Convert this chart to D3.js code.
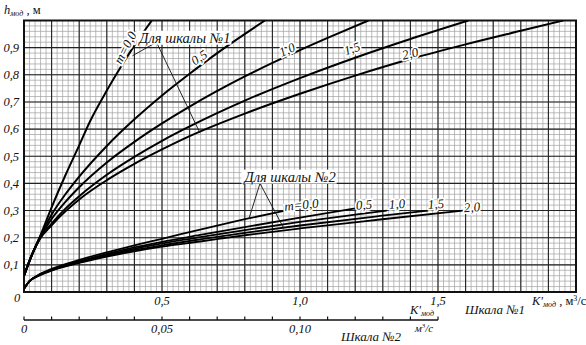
<!DOCTYPE html>
<html><head><meta charset="utf-8">
<script src="https://cdn.jsdelivr.net/npm/d3@7"></script>
<style>
body{margin:0;background:#fff;}
text{font-family:"Liberation Serif","DejaVu Serif",serif;font-style:italic;fill:#111;}
</style></head>
<body><svg id="c" width="586" height="345"></svg>
<script>
// ---- data ----
const yTicks = [0.1,0.2,0.3,0.4,0.5,0.6,0.7,0.8,0.9];
const yTickLabels = ["0,1","0,2","0,3","0,4","0,5","0,6","0,7","0,8","0,9"];
const x1Ticks = [0.5,1.0,1.5];
const x1TickLabels = ["0,5","1,0","1,5"];
const x2Ticks = [0,0.05,0.10];
const x2TickLabels = ["0","0,05","0,10"];
const mLabels = ["m=0,0","0,5","1,0","1,5","2,0"];

// upper family (scale №1): [K'мод, hмод]
const up_m00 = [[0,0.06],[0.03,0.14],[0.058,0.205],[0.1,0.312],[0.15,0.43],[0.2,0.54],[0.239,0.628],[0.3,0.742],[0.35,0.828],[0.395,0.9],[0.463,1.0]];
const up_m05 = [[0,0.06],[0.03,0.14],[0.058,0.203],[0.1,0.285],[0.15,0.36],[0.2,0.425],[0.3,0.538],[0.4,0.636],[0.5,0.724],[0.6,0.804],[0.7,0.88],[0.873,1.0]];
const up_m10 = [[0,0.06],[0.03,0.14],[0.058,0.2],[0.1,0.269],[0.15,0.332],[0.2,0.386],[0.3,0.477],[0.4,0.553],[0.5,0.621],[0.6,0.683],[0.8,0.794],[1.0,0.891],[1.1,0.936],[1.248,1.0]];
const up_m15 = [[0,0.06],[0.03,0.14],[0.058,0.198],[0.1,0.252],[0.15,0.307],[0.2,0.353],[0.3,0.432],[0.4,0.498],[0.5,0.557],[0.6,0.61],[0.8,0.705],[1.0,0.788],[1.2,0.863],[1.4,0.932],[1.61,1.0]];
const up_m20 = [[0,0.06],[0.03,0.14],[0.058,0.196],[0.1,0.246],[0.15,0.297],[0.2,0.341],[0.3,0.412],[0.4,0.472],[0.5,0.525],[0.6,0.574],[0.8,0.657],[1.0,0.73],[1.2,0.797],[1.4,0.858],[1.6,0.912],[1.8,0.962],[1.954,1.0]];

// lower family (scale №2, plotted on scale №1 positions)
const lo_m00 = [[0,0.012],[0.02,0.04],[0.05,0.062],[0.1,0.085],[0.2,0.118],[0.3,0.146],[0.4,0.172],[0.5,0.196],[0.638,0.23],[0.8,0.268],[0.946,0.30]];
const lo_m05 = [[0,0.012],[0.02,0.04],[0.05,0.06],[0.1,0.082],[0.2,0.113],[0.3,0.14],[0.4,0.164],[0.5,0.185],[0.638,0.21],[0.8,0.239],[1.0,0.274],[1.2,0.308]];
const lo_m10 = [[0,0.012],[0.02,0.04],[0.05,0.06],[0.1,0.081],[0.2,0.111],[0.3,0.137],[0.4,0.159],[0.5,0.179],[0.638,0.202],[0.8,0.228],[1.0,0.258],[1.2,0.285],[1.314,0.30]];
const lo_m15 = [[0,0.012],[0.02,0.04],[0.05,0.059],[0.1,0.08],[0.2,0.109],[0.3,0.133],[0.4,0.154],[0.5,0.172],[0.638,0.194],[0.8,0.218],[1.0,0.245],[1.29,0.28],[1.465,0.30]];
const lo_m20 = [[0,0.012],[0.02,0.04],[0.05,0.058],[0.1,0.079],[0.2,0.107],[0.3,0.13],[0.4,0.15],[0.5,0.167],[0.638,0.186],[0.8,0.209],[1.0,0.234],[1.29,0.267],[1.59,0.30]];

const upperCurves = [up_m00,up_m05,up_m10,up_m15,up_m20];
const lowerCurves = [lo_m00,lo_m05,lo_m10,lo_m15,lo_m20];

// ---- drawing ----
const svg = d3.select("#c");
const x = d3.scaleLinear().domain([0,2]).range([24,576]);
const y = d3.scaleLinear().domain([0,1]).range([292,20.5]);
const x2 = d3.scaleLinear().domain([0,0.2]).range([24,576]);

const g = svg.append("g");
// minor grid
g.append("g").selectAll("line").data(d3.range(1,100)).join("line")
  .attr("x1",d=>x(d*0.02)).attr("x2",d=>x(d*0.02)).attr("y1",y(0)).attr("y2",y(1))
  .attr("stroke","#a0a0a0").attr("stroke-width",0.7);
g.append("g").selectAll("line").data(d3.range(1,50)).join("line")
  .attr("y1",d=>y(d*0.02)).attr("y2",d=>y(d*0.02)).attr("x1",x(0)).attr("x2",x(2))
  .attr("stroke","#a0a0a0").attr("stroke-width",0.7);
// major grid
g.append("g").selectAll("line").data(d3.range(1,20)).join("line")
  .attr("x1",d=>x(d*0.1)).attr("x2",d=>x(d*0.1)).attr("y1",y(0)).attr("y2",y(1))
  .attr("stroke","#222").attr("stroke-width",1.1);
g.append("g").selectAll("line").data(d3.range(1,10)).join("line")
  .attr("y1",d=>y(d*0.1)).attr("y2",d=>y(d*0.1)).attr("x1",x(0)).attr("x2",x(2))
  .attr("stroke","#222").attr("stroke-width",1.1);
// frame
g.append("rect").attr("x",x(0)).attr("y",y(1)).attr("width",x(2)-x(0)).attr("height",y(0)-y(1))
  .attr("fill","none").attr("stroke","#111").attr("stroke-width",2);

// curves
const line = d3.line().x(d=>x(d[0])).y(d=>y(d[1])).curve(d3.curveMonotoneX);
svg.append("defs").append("clipPath").attr("id","clip").append("rect")
  .attr("x",x(0)).attr("y",y(1)).attr("width",x(2)-x(0)).attr("height",y(0)-y(1));
const cg = svg.append("g").attr("clip-path","url(#clip)");
cg.selectAll("path.up").data(upperCurves).join("path").attr("class","up")
  .attr("d",line).attr("fill","none").attr("stroke","#000").attr("stroke-width",2);
cg.selectAll("path.lo").data(lowerCurves).join("path").attr("class","lo")
  .attr("d",line).attr("fill","none").attr("stroke","#000").attr("stroke-width",1.8);

// leader lines
const lead = svg.append("g").attr("stroke","#111").attr("stroke-width",0.9).attr("fill","none");
lead.append("polyline").attr("points",[[x(0.393),y(0.87)],[x(0.48),y(0.92)],[x(0.638),y(0.585)]].map(p=>p.join(",")).join(" "));
lead.append("polyline").attr("points",[[x(0.815),y(0.27)],[x(0.855),y(0.40)],[x(0.94),y(0.237)]].map(p=>p.join(",")).join(" "));

function halo(sel){return sel.attr("stroke","#fff").attr("stroke-width",3.5).attr("paint-order","stroke").attr("stroke-linejoin","round");}

// callout labels with white box
function boxLabel(cx,cy,txt){
  const t = svg.append("text").attr("x",cx).attr("y",cy).attr("text-anchor","middle")
    .attr("font-size",14.5).text(txt);
  const b = t.node().getBBox();
  svg.insert("rect",()=>t.node()).attr("x",b.x-1).attr("y",b.y+1).attr("width",b.width+2).attr("height",b.height-2).attr("fill","#fff");
}
boxLabel(x(0.583),y(0.92)+0.5,"Для шкалы №1");
boxLabel(x(0.964),y(0.425)+5,"Для шкалы №2");

// curve labels upper
const upLab = [[0.366,0.90,-63],[0.634,0.864,-34],[0.953,0.893,-24],[1.188,0.897,-19],[1.399,0.879,-14]];
upLab.forEach((p,i)=>{
  halo(svg.append("text").attr("transform",`translate(${x(p[0])},${y(p[1])}) rotate(${p[2]})`)
    .attr("text-anchor","middle").attr("dy","0.35em").attr("font-size",13).text(mLabels[i]));
});
const loLab = [[1.005,0.322,-6],[1.232,0.322,-5],[1.351,0.325,-5],[1.493,0.325,-5],[1.623,0.313,-5]];
loLab.forEach((p,i)=>{
  halo(svg.append("text").attr("transform",`translate(${x(p[0])},${y(p[1])}) rotate(${p[2]})`)
    .attr("text-anchor","middle").attr("dy","0.35em").attr("font-size",13).text(mLabels[i]));
});

// y axis labels
svg.selectAll("text.yt").data(yTicks).join("text").attr("class","yt")
  .attr("x",19).attr("y",d=>y(d)).attr("dy","0.35em").attr("text-anchor","end")
  .attr("font-size",12.5).text((d,i)=>yTickLabels[i]);
svg.append("text").attr("x",17).attr("y",y(0)+10).attr("text-anchor","middle").attr("font-size",12.5).text("0");
const yl = svg.append("text").attr("x",4).attr("y",14).attr("font-size",12.5);
yl.append("tspan").text("h");
yl.append("tspan").attr("font-size",8).attr("dy",2).text("мод");
yl.append("tspan").attr("dy",-2).attr("font-style","normal").text(" , м");

// x scale 1 labels
svg.selectAll("text.xt").data(x1Ticks).join("text").attr("class","xt")
  .attr("x",d=>x(d)).attr("y",y(0)+13).attr("text-anchor","middle").attr("font-size",12.5)
  .text((d,i)=>x1TickLabels[i]);
const kl = svg.append("text").attr("x",532).attr("y",y(0)+13).attr("font-size",12.5);
kl.append("tspan").text("K'");
kl.append("tspan").attr("font-size",8).attr("dy",2).text("мод");
kl.append("tspan").attr("dy",-2).attr("font-style","normal").text(" , м");
kl.append("tspan").attr("font-size",8).attr("dy",-4).attr("font-style","normal").text("3");
kl.append("tspan").attr("dy",4).attr("font-style","normal").text("/с");
svg.append("text").attr("x",495).attr("y",314).attr("text-anchor","middle").attr("font-size",13).text("Шкала №1");

// scale 2 axis
const ax2 = svg.append("g").attr("transform","translate(0,320)");
ax2.append("line").attr("x1",x2(0)).attr("x2",x2(0.15)).attr("stroke","#111").attr("stroke-width",1.6);
ax2.selectAll("line.tk").data(d3.range(0,16)).join("line").attr("class","tk")
  .attr("x1",d=>x2(d*0.01)).attr("x2",d=>x2(d*0.01)).attr("y1",0).attr("y2",-3.5)
  .attr("stroke","#111").attr("stroke-width",1.2);
svg.selectAll("text.x2t").data(x2Ticks).join("text").attr("class","x2t")
  .attr("x",d=>x2(d)).attr("y",333).attr("text-anchor","middle").attr("font-size",12.5)
  .text((d,i)=>x2TickLabels[i]);
const k2 = svg.append("text").attr("x",410).attr("y",314).attr("font-size",12.5);
k2.append("tspan").text("K'");
k2.append("tspan").attr("font-size",8).attr("dy",2).text("мод");
const u2 = svg.append("text").attr("x",424).attr("y",332).attr("text-anchor","middle").attr("font-size",11).attr("font-style","normal");
u2.append("tspan").text("м");
u2.append("tspan").attr("font-size",7).attr("dy",-4).text("3");
u2.append("tspan").attr("dy",4).text("/с");
svg.append("text").attr("x",371).attr("y",341).attr("text-anchor","middle").attr("font-size",13).text("Шкала №2");
</script></body></html>
